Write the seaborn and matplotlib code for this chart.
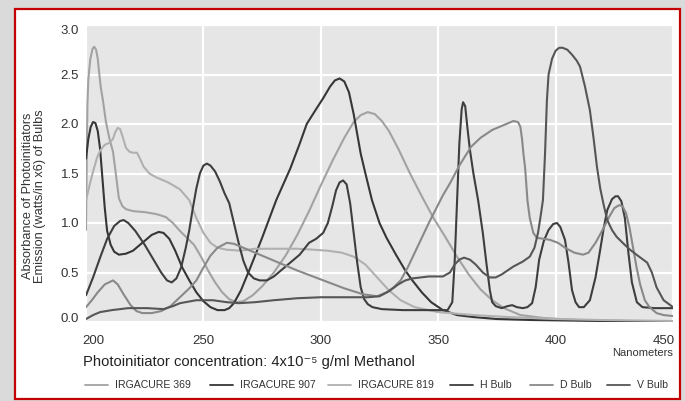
import matplotlib
matplotlib.use("Agg")
import matplotlib.pyplot as plt
import matplotlib.transforms as mtransforms
from matplotlib.lines import Line2D
from matplotlib.patches import Rectangle
import pandas as pd
import seaborn as sns

series = ["IRGACURE 369", "IRGACURE 907", "IRGACURE 819", "H Bulb", "D Bulb", "V Bulb"]
colors = ["#a2a2a2", "#363636", "#b0b0b0", "#3e3e3e", "#898989", "#565656"]

wl_369 = [200, 200.3, 200.6, 201, 201.8, 202.8, 203.5, 204.3, 205, 205.6, 206.3, 207.2, 208.5,
          210, 211.5, 212.8, 214, 215.5, 217, 220, 225, 230, 234, 237, 240, 243, 246, 249, 252, 255,
          258, 261, 264, 267, 271, 275, 280, 285, 290, 295, 300, 305, 310, 314, 317, 320, 323, 326,
          329, 333, 338, 343, 348, 353, 358, 363, 368, 373, 378, 385, 395, 410, 430, 450]
abs_369 = [0.93, 1.6, 2.2, 2.45, 2.65, 2.76, 2.78, 2.75, 2.66, 2.52, 2.37, 2.24, 2.02,
           1.85, 1.72, 1.48, 1.25, 1.17, 1.14, 1.12, 1.11, 1.09, 1.06, 1.0, 0.92, 0.85, 0.78, 0.66, 0.52,
           0.4, 0.3, 0.23, 0.2, 0.21, 0.27, 0.36, 0.5, 0.67, 0.88, 1.12, 1.38, 1.63, 1.86, 2.02, 2.09,
           2.12, 2.1, 2.03, 1.93, 1.75, 1.5, 1.27, 1.05, 0.86, 0.66, 0.48, 0.33, 0.22, 0.14, 0.07, 0.04,
           0.02, 0.01, 0.0]

wl_907 = [200, 201, 202, 203, 204, 205, 206, 207, 208, 209, 210.5, 212, 214, 217, 220, 224, 228, 231,
          233, 235.5, 238, 241, 244, 247, 250, 253, 256, 259, 261, 263, 266, 270, 275, 281, 287, 291,
          294, 298, 301, 304, 306, 308, 310, 312, 314, 315.5, 317, 319, 321.8, 325, 328, 332, 336, 339,
          343, 347, 352, 358, 365, 375, 390, 420, 450]
abs_907 = [1.65, 1.85, 1.97, 2.02, 2.01, 1.93, 1.75, 1.45, 1.15, 0.92, 0.78, 0.71, 0.68, 0.69, 0.72,
           0.8, 0.88, 0.91, 0.9, 0.84, 0.72, 0.55, 0.42, 0.3, 0.21, 0.15, 0.12, 0.12, 0.14, 0.19, 0.32,
           0.55, 0.85, 1.23, 1.55, 1.8, 2.0, 2.15, 2.26, 2.38, 2.44, 2.46, 2.43, 2.32, 2.1, 1.9, 1.7, 1.5,
           1.23, 1.0, 0.85, 0.68, 0.52, 0.42, 0.3, 0.2, 0.12, 0.07, 0.05, 0.03, 0.02, 0.01, 0.0]

wl_819 = [200, 201.5, 203, 204.7, 206, 208, 210, 211.5, 212.5, 213.5, 214.5, 215.5, 217, 218.5, 220,
          221.7, 223, 224.5, 227, 230, 235, 240, 244, 247, 250, 253, 256, 260, 266, 272, 280, 290, 297,
          303, 309, 314, 319, 324, 329, 334, 340, 350, 365, 380, 400, 420, 450]
abs_819 = [1.23, 1.38, 1.52, 1.66, 1.73, 1.79, 1.81, 1.85, 1.92, 1.96, 1.95, 1.88, 1.76, 1.72, 1.71,
           1.71, 1.65, 1.57, 1.5, 1.46, 1.41, 1.34, 1.23, 1.05, 0.9, 0.8, 0.75, 0.73, 0.72, 0.74, 0.74,
           0.74, 0.73, 0.72, 0.7, 0.66, 0.58, 0.45, 0.32, 0.22, 0.15, 0.1, 0.07, 0.05, 0.03, 0.02, 0.01]

wl_h = [200, 203, 206, 209, 212, 214.5, 216, 218, 221, 225, 229, 232, 234.5, 236.5, 238.5, 240.5,
        242.5, 244, 245.5, 247, 248.5, 250, 251.5, 253, 255, 257, 259, 261, 263, 265, 267, 269, 271.5,
        274, 277, 280, 283, 287, 291, 295, 298, 301, 303, 305, 306.5, 308, 309.5, 311, 312.5, 314,
        315.5, 317, 318.5, 320, 322, 326, 335, 345, 354, 356, 357, 358, 359, 360, 360.6, 361.5,
        362.5, 363.5, 365, 367, 369, 370.5, 372, 373, 374.5, 377, 379.5, 381.5, 383.5, 386, 388, 390,
        391.5, 393, 395, 397, 399, 400.6, 402, 404, 405.5, 407, 408.5, 410, 412, 414.6, 417, 419,
        420.5, 422, 424, 425.5, 426.6, 428, 429.5, 431, 432.5, 434.6, 437, 442, 450]
abs_h = [0.27, 0.45, 0.65, 0.84, 0.97, 1.02, 1.03, 1.0, 0.92, 0.78, 0.62, 0.5, 0.42, 0.4, 0.44, 0.55,
         0.75, 0.93, 1.15, 1.35, 1.5, 1.58, 1.6, 1.58, 1.52, 1.42, 1.3, 1.2, 1.0, 0.8, 0.62, 0.5, 0.44,
         0.42, 0.42, 0.46, 0.52, 0.6, 0.68, 0.8, 0.84, 0.9, 1.0, 1.18, 1.33, 1.41, 1.43, 1.39, 1.2, 0.9,
         0.6, 0.35, 0.23, 0.18, 0.15, 0.13, 0.12, 0.12, 0.12, 0.2, 0.6, 1.2, 1.8, 2.15, 2.22, 2.18,
         1.95, 1.74, 1.5, 1.23, 0.9, 0.6, 0.32, 0.2, 0.16, 0.14, 0.16, 0.17, 0.15, 0.14, 0.15, 0.19,
         0.35, 0.63, 0.82, 0.93, 0.99, 1.0, 0.96, 0.83, 0.6, 0.32, 0.2, 0.15, 0.15, 0.22, 0.45, 0.73,
         0.95, 1.13, 1.24, 1.27, 1.27, 1.22, 1.05, 0.7, 0.4, 0.2, 0.15, 0.14, 0.14]

wl_d = [200, 202.5, 205, 208, 211.5, 213.5, 216, 219, 221.5, 224, 228, 232, 236, 240, 244, 247, 250,
        253, 256, 260, 263, 266, 272, 280, 290, 300, 310, 318, 324, 328, 331, 334, 337, 340, 343, 346,
        349, 352, 355, 359, 364, 368, 373, 377, 380, 382, 384, 385, 385.7, 386.3, 387, 387.5, 388, 389,
        390.5, 392, 395, 397.6, 401, 404, 408, 411.7, 414, 417, 420, 423, 425, 427, 428.5, 430, 431.5,
        433, 434.5, 436, 438, 440, 443, 446, 450]
abs_d = [0.15, 0.22, 0.3, 0.38, 0.42, 0.38, 0.28, 0.17, 0.11, 0.09, 0.09, 0.11, 0.16, 0.25, 0.34,
         0.42, 0.55, 0.67, 0.75, 0.8, 0.79, 0.76, 0.7, 0.62, 0.52, 0.43, 0.34, 0.28, 0.26, 0.3, 0.35,
         0.42, 0.55, 0.7, 0.85, 1.0, 1.14, 1.28, 1.4, 1.58, 1.77, 1.86, 1.94, 1.98, 2.01, 2.03, 2.02,
         1.97, 1.85, 1.7, 1.56, 1.4, 1.23, 1.05, 0.9, 0.85, 0.84, 0.83, 0.8, 0.75, 0.7, 0.68, 0.7, 0.8,
         0.93, 1.07, 1.15, 1.18, 1.17, 1.1, 0.95, 0.75, 0.55, 0.38, 0.22, 0.15, 0.09, 0.07, 0.06]

wl_v = [200, 203, 206, 211, 218, 226, 233, 237, 240, 247, 254, 260, 265, 272, 280, 290, 300, 310,
        320, 325, 329, 333, 336, 339, 346, 352, 355, 357, 359, 361, 363.5, 366, 369, 372, 374.5, 377,
        382, 386, 389, 391, 392.5, 393.5, 394.6, 395.5, 396.3, 397, 398.5, 400, 401.5, 403, 405, 407,
        409, 410.4, 412.5, 414.6, 416.2, 417.6, 419, 420.5, 422, 424, 426, 429, 431.7, 435, 439, 441,
        443, 446, 450]
abs_v = [0.03, 0.07, 0.1, 0.12, 0.14, 0.14, 0.13, 0.16, 0.19, 0.22, 0.22, 0.2, 0.19, 0.2, 0.22,
         0.24, 0.25, 0.25, 0.25, 0.26, 0.31, 0.38, 0.42, 0.44, 0.46, 0.46, 0.5, 0.58, 0.63, 0.65, 0.63,
         0.58, 0.5, 0.45, 0.45, 0.48, 0.56, 0.61, 0.66, 0.75, 0.9, 1.05, 1.23, 1.7, 2.24, 2.5, 2.66,
         2.74, 2.77, 2.77, 2.75, 2.7, 2.64, 2.58, 2.38, 2.14, 1.85, 1.57, 1.35, 1.18, 1.03, 0.93, 0.86,
         0.79, 0.73, 0.67, 0.6, 0.5, 0.35, 0.22, 0.15]

wavelengths = [wl_369, wl_907, wl_819, wl_h, wl_d, wl_v]
values = [abs_369, abs_907, abs_819, abs_h, abs_d, abs_v]

x_ticks = [200, 250, 300, 350, 400, 450]
y_ticks = [0.0, 0.5, 1.0, 1.5, 2.0, 2.5, 3.0]

df = pd.concat(
    [pd.DataFrame({"nm": w, "value": v, "series": s}) for s, w, v in zip(series, wavelengths, values)],
    ignore_index=True,
)

sns.set_theme(style="darkgrid", rc={"axes.facecolor": "#e6e6e6", "grid.color": "white",
                                    "grid.linewidth": 1.6})
plt.rcParams["font.family"] = ["Liberation Sans", "DejaVu Sans"]

W, H = 685, 401
fig = plt.figure(figsize=(W / 100, H / 100), dpi=100, facecolor="#dadada")

# white card with red frame, kept behind the axes
card = Rectangle((15 / W, 1 - 399 / H), 665 / W, 390 / H, transform=fig.transFigure,
                 facecolor="white", edgecolor="#c40000", linewidth=1.6, zorder=-10)
fig.patches.append(card)

ax = fig.add_axes([86 / W, 1 - 322 / H, 587 / W, 297 / H])
ax.set_zorder(1)
sns.lineplot(data=df, x="nm", y="value", hue="series", units="series", estimator=None, sort=False,
             palette=dict(zip(series, colors)), linewidth=1.5, legend=False, ax=ax)

ax.set_xlim(200, 450)
ax.set_ylim(0, 3.0)
ax.set_xticks(x_ticks)
ax.set_yticks(y_ticks)
ax.set_xticklabels([str(t) for t in x_ticks])
ax.set_yticklabels([f"{t:.1f}" for t in y_ticks])
ax.tick_params(axis="both", length=0, labelsize=9.5, labelcolor="#333333")
ax.tick_params(axis="x", pad=9)
ax.tick_params(axis="y", pad=5)
ax.set_xlabel("")
ax.set_ylabel("")
for sp in ax.spines.values():
    sp.set_visible(False)

# nudge the end labels inward
xl = ax.get_xticklabels()
xl[0].set_transform(xl[0].get_transform() + mtransforms.ScaledTranslation(7 / 100, 0, fig.dpi_scale_trans))
xl[-1].set_transform(xl[-1].get_transform() + mtransforms.ScaledTranslation(-9 / 100, 0, fig.dpi_scale_trans))
yl = ax.get_yticklabels()
yl[0].set_transform(yl[0].get_transform() + mtransforms.ScaledTranslation(0, 5 / 100, fig.dpi_scale_trans))
yl[-1].set_transform(yl[-1].get_transform() + mtransforms.ScaledTranslation(0, -4 / 100, fig.dpi_scale_trans))

fig.text(83 / W, 1 - 362 / H, "Photoinitiator concentration: 4x10\u207b\u2075 g/ml Methanol",
         ha="left", va="center", fontsize=10.6, color="#222222")
fig.text(673 / W, 1 - 353 / H, "Nanometers", ha="right", va="center", fontsize=8, color="#333333")
fig.text(28 / W, 1 - 196 / H, "Absorbance of Photoinitiators", rotation=90, ha="center", va="center",
         fontsize=9.2, color="#333333")
fig.text(40 / W, 1 - 196 / H, "Emission (watts/in x6) of Bulbs", rotation=90, ha="center", va="center",
         fontsize=9.2, color="#333333")

# legend row
starts = [85, 210, 328, 450, 530, 607]
for s, c, x0 in zip(series, colors, starts):
    fig.add_artist(Line2D([x0 / W, (x0 + 23) / W], [1 - 385 / H, 1 - 385 / H], transform=fig.transFigure,
                          color=c, linewidth=1.3))
    fig.text((x0 + 30) / W, 1 - 385 / H, s, ha="left", va="center", fontsize=7.6, color="#333333")

fig.savefig("out.png", dpi=100, facecolor=fig.get_facecolor())
